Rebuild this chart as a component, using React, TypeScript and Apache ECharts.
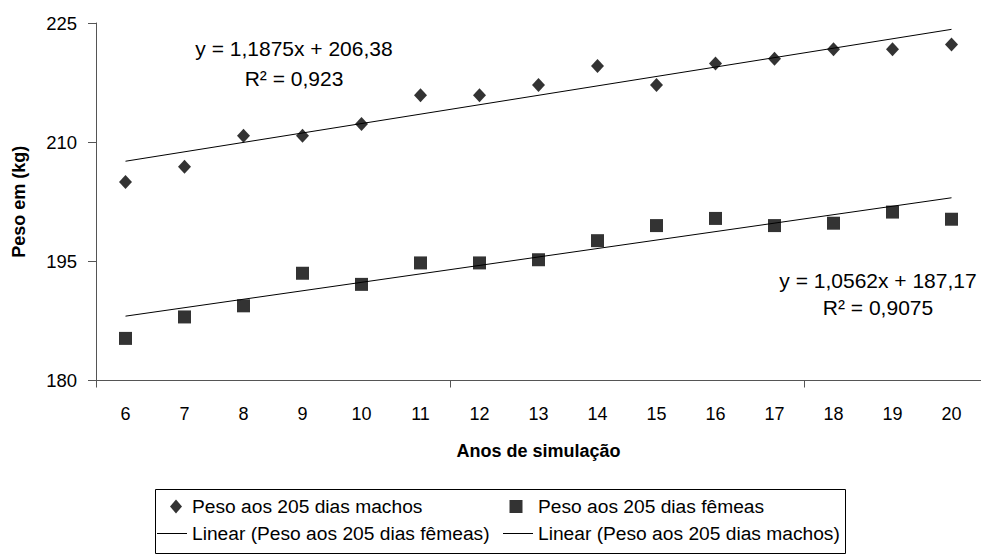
import React, { useEffect, useRef } from "react";
import * as echarts from "echarts";

const categories = ["6", "7", "8", "9", "10", "11", "12", "13", "14", "15", "16", "17", "18", "19", "20"];
const machos = [205.0, 206.9, 210.8, 210.8, 212.3, 215.9, 215.9, 217.2, 219.6, 217.2, 219.9, 220.5, 221.7, 221.7, 222.3];
const femeas = [185.3, 188.0, 189.4, 193.5, 192.1, 194.8, 194.8, 195.2, 197.6, 199.5, 200.4, 199.5, 199.8, 201.2, 200.3];
// trend line end points (at categories 6 and 20)
const trendMachos = [207.6, 224.2];
const trendFemeas = [188.1, 203.0];
const yTicks = [180, 195, 210, 225];

const nMachos = "Peso aos 205 dias machos";
const nFemeas = "Peso aos 205 dias fêmeas";
const nLinF = "Linear (Peso aos 205 dias fêmeas)";
const nLinM = "Linear (Peso aos 205 dias machos)";

const FONT = "'Liberation Sans', Arial, sans-serif";

export default function App() {
  const ref = useRef<HTMLDivElement>(null);
  useEffect(() => {
    if (!ref.current) return;
    const chart = echarts.init(ref.current, null, { renderer: "svg" });
    const first = categories[0];
    const last = categories[categories.length - 1];
    const legendText = { fontFamily: FONT, fontSize: 19.2, color: "#000" };
    const eqStyle = { fontFamily: FONT, fontSize: 21, fill: "#000", textAlign: "center", textVerticalAlign: "middle" };
    chart.setOption({
      animation: false,
      backgroundColor: "#fff",
      textStyle: { fontFamily: FONT },
      grid: { left: 96, top: 23, width: 890, height: 357.5, containLabel: false },
      xAxis: {
        type: "category",
        data: categories,
        boundaryGap: true,
        name: "Anos de simulação",
        nameLocation: "middle",
        nameGap: 61,
        nameTextStyle: { fontFamily: FONT, fontSize: 18, fontWeight: "bold", color: "#000" },
        axisLine: { show: true, lineStyle: { color: "#555", width: 1 } },
        axisTick: { show: true, interval: 5, length: 7, lineStyle: { color: "#555" } },
        axisLabel: { interval: () => true, margin: 24, fontSize: 18, color: "#000", fontFamily: FONT },
        splitLine: { show: false },
      },
      yAxis: {
        type: "value",
        min: yTicks[0],
        max: yTicks[yTicks.length - 1],
        interval: 15,
        name: "Peso em (kg)",
        nameLocation: "middle",
        nameGap: 68,
        nameTextStyle: { fontFamily: FONT, fontSize: 18, fontWeight: "bold", color: "#000" },
        axisLine: { show: true, lineStyle: { color: "#555", width: 1 } },
        axisTick: { show: true, length: 8, lineStyle: { color: "#555" } },
        axisLabel: { margin: 19, fontSize: 18.5, color: "#000", fontFamily: FONT },
        splitLine: { show: false },
      },
      legend: [
        { data: [nMachos], left: 170, top: 497, padding: 0, itemWidth: 12, itemHeight: 14, textStyle: { ...legendText, padding: [0, 0, 0, 5] }, selectedMode: false },
        { data: [nFemeas], left: 509.5, top: 497, padding: 0, itemWidth: 13, itemHeight: 13, textStyle: { ...legendText, padding: [0, 0, 0, 10.5] }, selectedMode: false },
        { data: [{ name: nLinF, icon: "rect" }], left: 157, top: 524, padding: 0, itemWidth: 30, itemHeight: 1, textStyle: legendText, selectedMode: false },
        { data: [{ name: nLinM, icon: "rect" }], left: 503, top: 524, padding: 0, itemWidth: 30, itemHeight: 1, textStyle: legendText, selectedMode: false },
      ],
      graphic: [
        { type: "rect", shape: { x: 155.5, y: 489.5, width: 690, height: 64 }, style: { fill: "none", stroke: "#000", lineWidth: 1 } },
        { type: "text", x: 294, y: 48, style: { ...eqStyle, text: "y = 1,1875x + 206,38" } },
        { type: "text", x: 294, y: 78, style: { ...eqStyle, text: "R² = 0,923" } },
        { type: "text", x: 878, y: 280, style: { ...eqStyle, text: "y = 1,0562x + 187,17" } },
        { type: "text", x: 878, y: 307, style: { ...eqStyle, text: "R² = 0,9075" } },
      ],
      series: [
        { name: nMachos, type: "scatter", symbol: "diamond", symbolSize: [13, 14], data: machos, itemStyle: { color: "#000" } },
        { name: nFemeas, type: "scatter", symbol: "rect", symbolSize: 13, data: femeas, itemStyle: { color: "#000" } },
        {
          name: nLinF, type: "line", symbol: "none", showSymbol: false,
          data: [[first, trendFemeas[0]], [last, trendFemeas[1]]],
          lineStyle: { color: "#000", width: 1 }, itemStyle: { color: "#000" },
        },
        {
          name: nLinM, type: "line", symbol: "none", showSymbol: false,
          data: [[first, trendMachos[0]], [last, trendMachos[1]]],
          lineStyle: { color: "#000", width: 1 }, itemStyle: { color: "#000" },
        },
      ],
    });
    return () => chart.dispose();
  }, []);
  return <div ref={ref} style={{ position: "fixed", left: 0, top: 0, width: 981, height: 554 }} />;
}
